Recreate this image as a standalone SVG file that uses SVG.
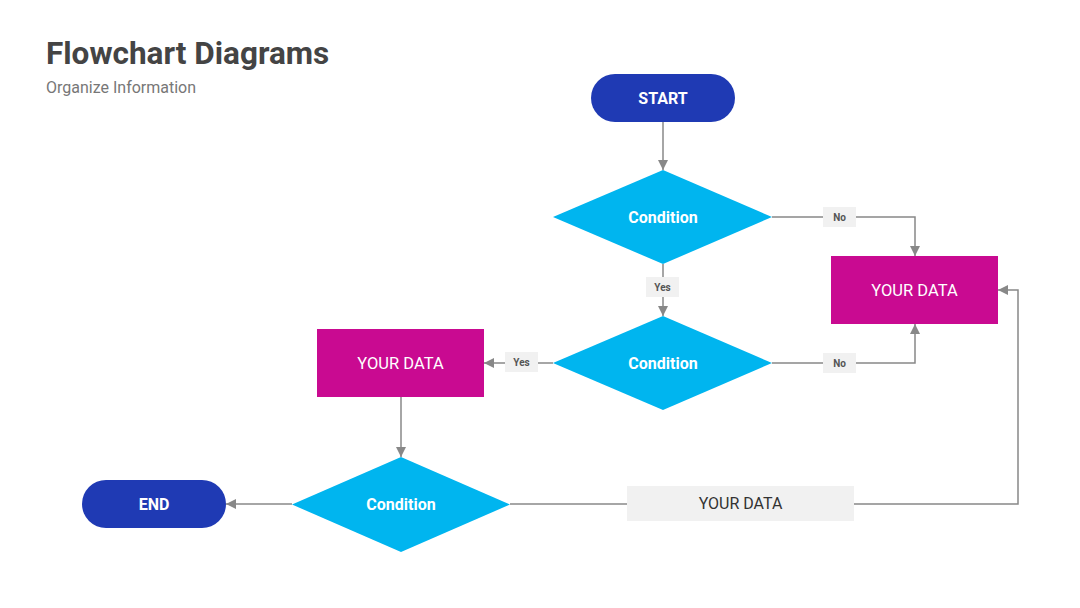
<svg xmlns="http://www.w3.org/2000/svg" width="1080" height="608" viewBox="0 0 1080 608">
<defs>
<marker id="ah" viewBox="0 0 10 10" refX="10" refY="5" markerWidth="10" markerHeight="10" markerUnits="userSpaceOnUse" orient="auto">
<path d="M0,0 L10,5 L0,10 Z" fill="#888"/>
</marker>
</defs>
<style>
text{font-family:Roboto,"Liberation Sans",sans-serif;}
.term{fill:#1f3ab4;}
.dec{fill:#00b5ef;}
.proc{fill:#c90a91;}
.gbox{fill:#f1f1f1;}
.wt{fill:#fff;font-size:16px;font-weight:bold;text-anchor:middle;dominant-baseline:central;}
.wr{fill:#fff;font-size:16.5px;text-anchor:middle;dominant-baseline:central;}
.lbl{fill:#555;font-size:10px;font-weight:bold;text-anchor:middle;dominant-baseline:central;}
.line{fill:none;stroke:#888;stroke-width:1.5;}
</style>
<rect width="1080" height="608" fill="#fff"/>
<text x="46" y="64" font-size="31.5" font-weight="bold" fill="#444">Flowchart Diagrams</text>
<text x="46" y="93" font-size="16" fill="#777">Organize Information</text>

<g id="connectors">
<path class="line" d="M663,122 V170" marker-end="url(#ah)"/>
<path class="line" d="M772,217 H915 V256" marker-end="url(#ah)"/>
<path class="line" d="M663,264 V316" marker-end="url(#ah)"/>
<path class="line" d="M772,363 H915 V324" marker-end="url(#ah)"/>
<path class="line" d="M553,363 H484" marker-end="url(#ah)"/>
<path class="line" d="M401,397 V457" marker-end="url(#ah)"/>
<path class="line" d="M292,504 H226" marker-end="url(#ah)"/>
<path class="line" d="M510,504 H627"/>
<path class="line" d="M854,504 H1018 V290 H998" marker-end="url(#ah)"/>
<rect class="gbox" x="823" y="207" width="33" height="20"/>
<text class="lbl" x="839.5" y="217">No</text>
<rect class="gbox" x="646" y="277" width="33" height="20"/>
<text class="lbl" x="662.5" y="287">Yes</text>
<rect class="gbox" x="823" y="353" width="33" height="20"/>
<text class="lbl" x="839.5" y="363">No</text>
<rect class="gbox" x="505" y="352" width="33" height="20"/>
<text class="lbl" x="521.5" y="362">Yes</text>
</g>

<g id="start">
<rect class="term" x="591" y="74" width="144" height="48" rx="24"/>
<text class="wt" x="663" y="98">START</text>
</g>
<g id="cond1">
<polygon class="dec" points="553,217 663,170 772,217 663,264"/>
<text class="wt" x="663" y="217">Condition</text>
</g>
<g id="cond2">
<polygon class="dec" points="553,363 663,316 772,363 663,410"/>
<text class="wt" x="663" y="363">Condition</text>
</g>
<g id="data-right">
<rect class="proc" x="831" y="256" width="167" height="68"/>
<text class="wr" x="914.5" y="290">YOUR DATA</text>
</g>
<g id="data-left">
<rect class="proc" x="317" y="329" width="167" height="68"/>
<text class="wr" x="400.5" y="363">YOUR DATA</text>
</g>
<g id="cond3">
<polygon class="dec" points="292,504.5 401,457 510,504.5 401,552"/>
<text class="wt" x="401" y="504.5">Condition</text>
</g>
<g id="end">
<rect class="term" x="82" y="480" width="144" height="48" rx="24"/>
<text class="wt" x="154" y="504">END</text>
</g>
<g id="data-bottom">
<rect class="gbox" x="627" y="486" width="227" height="35"/>
<text x="740.5" y="503.5" font-size="16" fill="#333" text-anchor="middle" dominant-baseline="central">YOUR DATA</text>
</g>
</svg>
